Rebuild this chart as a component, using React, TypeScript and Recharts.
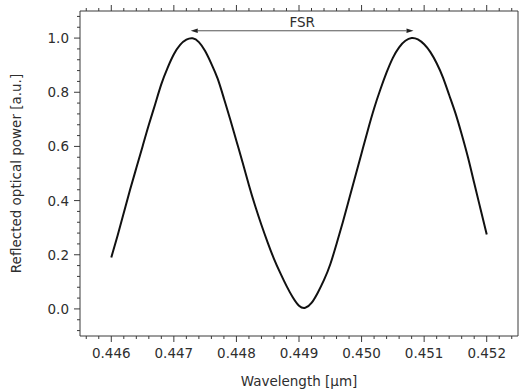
import { LineChart, Line, XAxis, YAxis, ReferenceLine } from "recharts";

// wavelength in µm, every 0.1 nm
const wavelength = [
  0.446, 0.4461, 0.4462, 0.4463, 0.4464, 0.4465, 0.4466, 0.4467, 0.4468, 0.4469,
  0.447, 0.4471, 0.4472, 0.4473, 0.4474, 0.4475, 0.4476, 0.4477, 0.4478, 0.4479,
  0.448, 0.4481, 0.4482, 0.4483, 0.4484, 0.4485, 0.4486, 0.4487, 0.4488, 0.4489,
  0.449, 0.4491, 0.4492, 0.4493, 0.4494, 0.4495, 0.4496, 0.4497, 0.4498, 0.4499,
  0.45, 0.4501, 0.4502, 0.4503, 0.4504, 0.4505, 0.4506, 0.4507, 0.4508, 0.4509,
  0.451, 0.4511, 0.4512, 0.4513, 0.4514, 0.4515, 0.4516, 0.4517, 0.4518, 0.4519,
  0.452,
];

const reflectedPower = [
  0.19, 0.27, 0.355, 0.44, 0.52, 0.6, 0.68, 0.755, 0.83, 0.89,
  0.94, 0.975, 0.994, 0.999, 0.985, 0.952, 0.905, 0.85, 0.777, 0.7,
  0.62, 0.54, 0.457, 0.38, 0.31, 0.245, 0.185, 0.133, 0.085, 0.043,
  0.012, 0.004, 0.022, 0.06, 0.107, 0.165, 0.24, 0.32, 0.405, 0.49,
  0.575, 0.66, 0.74, 0.81, 0.873, 0.927, 0.966, 0.99, 1.0, 0.995,
  0.977, 0.948, 0.907, 0.855, 0.79, 0.723, 0.645, 0.56, 0.465, 0.37,
  0.275,
];

const xDomain = [0.4455, 0.4525];
const yDomain = [-0.1, 1.1];

// every 0.2 nm, labels on the whole nm
const xTicks: number[] = [];
for (let i = 0; i <= 34; i++) xTicks.push(+(0.4456 + i * 0.0002).toFixed(4));
// every 0.04, labels on 0.2 steps
const yTicks: number[] = [];
for (let i = 0; i <= 29; i++) yTicks.push(+(-0.08 + i * 0.04).toFixed(2));

const fsrStart = 0.44727;
const fsrEnd = 0.45083;
const fsrLevel = 1.027;

const data = wavelength.map((wl, i) => ({ wl, power: reflectedPower[i] }));

const axisColor = "#3a3a3a";
const textColor = "#2e2e2e";
const font = "DejaVu Sans";
const fontSize = 13.5;

const isMajorX = (v: number) => Math.abs(v * 1000 - Math.round(v * 1000)) < 1e-6;
const isMajorY = (v: number) => Math.abs(v * 5 - Math.round(v * 5)) < 1e-6;

function BottomTick({ x, y, payload }: any) {
  const major = isMajorX(payload.value);
  return (
    <g>
      <line x1={x} y1={y} x2={x} y2={y + (major ? 6 : 3)} stroke={axisColor} />
      {major && (
        <text x={x} y={y + 22} textAnchor="middle" fill={textColor} fontSize={fontSize} fontFamily={font}>
          {payload.value.toFixed(3)}
        </text>
      )}
    </g>
  );
}

function TopTick({ x, y, payload }: any) {
  const major = isMajorX(payload.value);
  return <line x1={x} y1={y} x2={x} y2={y - (major ? 6 : 3)} stroke={axisColor} />;
}

function LeftTick({ x, y, payload }: any) {
  const major = isMajorY(payload.value);
  return (
    <g>
      <line x1={x} y1={y} x2={x - (major ? 6 : 3)} y2={y} stroke={axisColor} />
      {major && (
        <text x={x - 11} y={y + 5} textAnchor="end" fill={textColor} fontSize={fontSize} fontFamily={font}>
          {payload.value.toFixed(1)}
        </text>
      )}
    </g>
  );
}

function FsrArrow({ x1, y1, x2, y2 }: any) {
  const head = 7;
  const half = 2.2;
  return (
    <g>
      <line x1={x1 + head} y1={y1} x2={x2 - head} y2={y2} stroke="#555" strokeWidth={1} />
      <polygon points={`${x1},${y1} ${x1 + head},${y1 - half} ${x1 + head},${y1 + half}`} fill="#222" />
      <polygon points={`${x2},${y2} ${x2 - head},${y2 - half} ${x2 - head},${y2 + half}`} fill="#222" />
      <text x={(x1 + x2) / 2} y={y1 - 4} textAnchor="middle" fill={textColor} fontSize={fontSize} fontFamily={font}>
        FSR
      </text>
    </g>
  );
}

export default function App() {
  return (
    <div style={{ position: "absolute", left: 0, top: 0, background: "#fff" }}>
      <LineChart
        width={519}
        height={392}
        data={data}
        margin={{ top: 0, right: 0, bottom: 0, left: 0 }}
        style={{ fontFamily: font }}
      >
        <XAxis
          xAxisId="x"
          dataKey="wl"
          type="number"
          domain={xDomain}
          allowDataOverflow
          ticks={xTicks}
          interval={0}
          tickSize={0}
          tickMargin={0}
          tickLine={false}
          tick={BottomTick}
          height={56}
          axisLine={{ stroke: axisColor }}
          label={{ value: "Wavelength [μm]", position: "insideBottom", offset: 6, fill: textColor, fontSize }}
        />
        <XAxis
          xAxisId="xt"
          orientation="top"
          dataKey="wl"
          type="number"
          domain={xDomain}
          allowDataOverflow
          ticks={xTicks}
          interval={0}
          tickSize={0}
          tickMargin={0}
          tickLine={false}
          tick={TopTick}
          height={11}
          axisLine={{ stroke: axisColor }}
        />
        <YAxis
          yAxisId="y"
          type="number"
          domain={yDomain}
          allowDataOverflow
          ticks={yTicks}
          interval={0}
          tickSize={0}
          tickMargin={0}
          tickLine={false}
          tick={LeftTick}
          width={80}
          axisLine={{ stroke: axisColor }}
          label={{
            value: "Reflected optical power [a.u.]",
            angle: -90,
            position: "insideLeft",
            offset: 16,
            fill: textColor,
            fontSize,
            style: { textAnchor: "middle" },
          }}
        />
        <YAxis
          yAxisId="yr"
          orientation="right"
          type="number"
          domain={yDomain}
          allowDataOverflow
          tick={false}
          tickLine={false}
          width={1}
          axisLine={{ stroke: axisColor }}
        />
        <ReferenceLine
          xAxisId="x"
          yAxisId="y"
          segment={[
            { x: fsrStart, y: fsrLevel },
            { x: fsrEnd, y: fsrLevel },
          ]}
          shape={FsrArrow}
        />
        <Line
          xAxisId="x"
          yAxisId="y"
          dataKey="power"
          type="natural"
          stroke="#111"
          strokeWidth={2}
          dot={false}
          isAnimationActive={false}
        />
      </LineChart>
    </div>
  );
}
